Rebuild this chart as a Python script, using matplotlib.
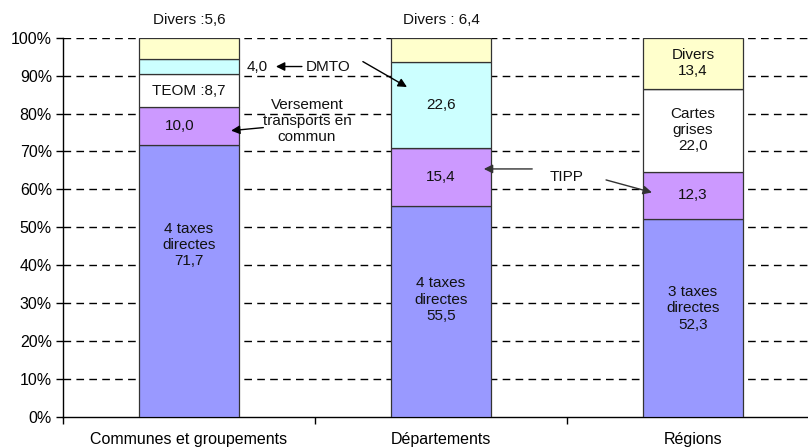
import matplotlib
matplotlib.use("Agg")
import matplotlib.pyplot as plt
import numpy as np

plt.rcParams['font.family'] = ['Liberation Sans', 'DejaVu Sans']

categories = ["Communes et groupements", "Départements", "Régions"]
taxes_directes = [71.7, 55.5, 52.3]
transports_tipp = [10.0, 15.4, 12.3]
teom_cartes = [8.7, 0.0, 22.0]
dmto = [4.0, 22.6, 0.0]
divers = [5.6, 6.4, 13.4]
yticks = [0, 10, 20, 30, 40, 50, 60, 70, 80, 90, 100]
ytick_labels = [f"{v}%" for v in yticks]

series = [taxes_directes, transports_tipp, teom_cartes, dmto, divers]
colors = ["#9999FF", "#CC99FF", "#FFFFFF", "#CCFFFF", "#FFFFCC"]

fig = plt.figure(figsize=(8.08, 4.48), dpi=100)
ax = fig.add_axes([63/808, 31/448, 745/808, 379.3/448])

x = np.array([0.5, 1.5, 2.5])
bottom = np.zeros(3)
mids = []
for vals, c in zip(series, colors):
    v = np.array(vals)
    ax.bar(x, v, width=100/252, bottom=bottom, color=c, edgecolor="#333333",
           linewidth=0.9, zorder=3)
    mids.append(bottom + v / 2)
    bottom = bottom + v

def fmt(v):
    return f"{v:.1f}".replace(".", ",")

fs = 11
txt = dict(ha="center", va="center", fontsize=fs, color="#111111", zorder=5,
           linespacing=1.2)

# big segments
ax.text(x[0], mids[0][0] + 9.5, f"4 taxes\ndirectes\n{fmt(taxes_directes[0])}", **txt)
ax.text(x[1], mids[0][1] + 3.2, f"4 taxes\ndirectes\n{fmt(taxes_directes[1])}", **txt)
ax.text(x[2], mids[0][2] + 2.5, f"3 taxes\ndirectes\n{fmt(taxes_directes[2])}", **txt)

# purple
ax.text(x[0] - 0.035, mids[1][0], fmt(transports_tipp[0]), **txt)
ax.text(x[1], mids[1][1], fmt(transports_tipp[1]), **txt)
ax.text(x[2], mids[1][2], fmt(transports_tipp[2]), **txt)

# white
ax.text(x[0], mids[2][0], f"TEOM :{fmt(teom_cartes[0])}", **txt)
ax.text(x[2], mids[2][2], f"Cartes\ngrises\n{fmt(teom_cartes[2])}", **txt)

# cyan
ax.text(x[1], mids[3][1], fmt(dmto[1]), **txt)
ax.text(0.77, mids[3][0], fmt(dmto[0]), **txt)

# divers
ax.text(x[0], 104.6, f"Divers :{fmt(divers[0])}", **txt)
ax.text(x[1], 104.6, f"Divers : {fmt(divers[1])}", **txt)
ax.text(x[2], mids[4][2], f"Divers\n{fmt(divers[2])}", **txt)

# annotations
arr = dict(arrowstyle="-|>", color="black", lw=1.0, mutation_scale=13,
           shrinkA=0, shrinkB=0)
ax.text(1.052, mids[3][0], "DMTO", **txt)
ax.annotate("", xy=(0.845, mids[3][0]), xytext=(0.948, mids[3][0]),
            arrowprops=arr, zorder=6)
ax.annotate("", xy=(1.365, 87.0), xytext=(1.19, 93.7),
            arrowprops=arr, zorder=6)

ax.text(0.968, 78.0, "Versement\ntransports en\ncommun", **txt)
ax.annotate("", xy=(0.667, 75.5), xytext=(0.795, 76.3),
            arrowprops=arr, zorder=6)

ax.text(2.0, 63.3, "TIPP", **txt)
arr2 = dict(arr, color="#333333")
ax.annotate("", xy=(1.67, 65.4), xytext=(1.862, 65.4),
            arrowprops=arr2, zorder=6)
ax.annotate("", xy=(2.337, 59.2), xytext=(2.155, 62.5),
            arrowprops=arr2, zorder=6)

ax.set_yticks(yticks)
ax.set_yticklabels(ytick_labels, fontsize=11.5)
for v in yticks[1:]:
    ax.axhline(v, color="black", lw=1.0, dashes=(5.5, 3.8), zorder=1)

ax.set_xticks([0, 1, 2, 3])
ax.set_xticklabels([])
ax.set_xticks(x, minor=True)
ax.set_xticklabels(categories, minor=True, fontsize=11.5)
ax.tick_params(axis="x", which="major", length=5, width=1, direction="out")
ax.tick_params(axis="x", which="minor", length=0, pad=11)
ax.tick_params(axis="y", length=5, width=1, direction="out", pad=3)

ax.set_xlim(0, 745/252)
ax.set_ylim(0, 100)

for s in ["top", "right"]:
    ax.spines[s].set_visible(False)
for s in ["left", "bottom"]:
    ax.spines[s].set_linewidth(1.0)
    ax.spines[s].set_color("black")

fig.savefig("out.png", dpi=100)
